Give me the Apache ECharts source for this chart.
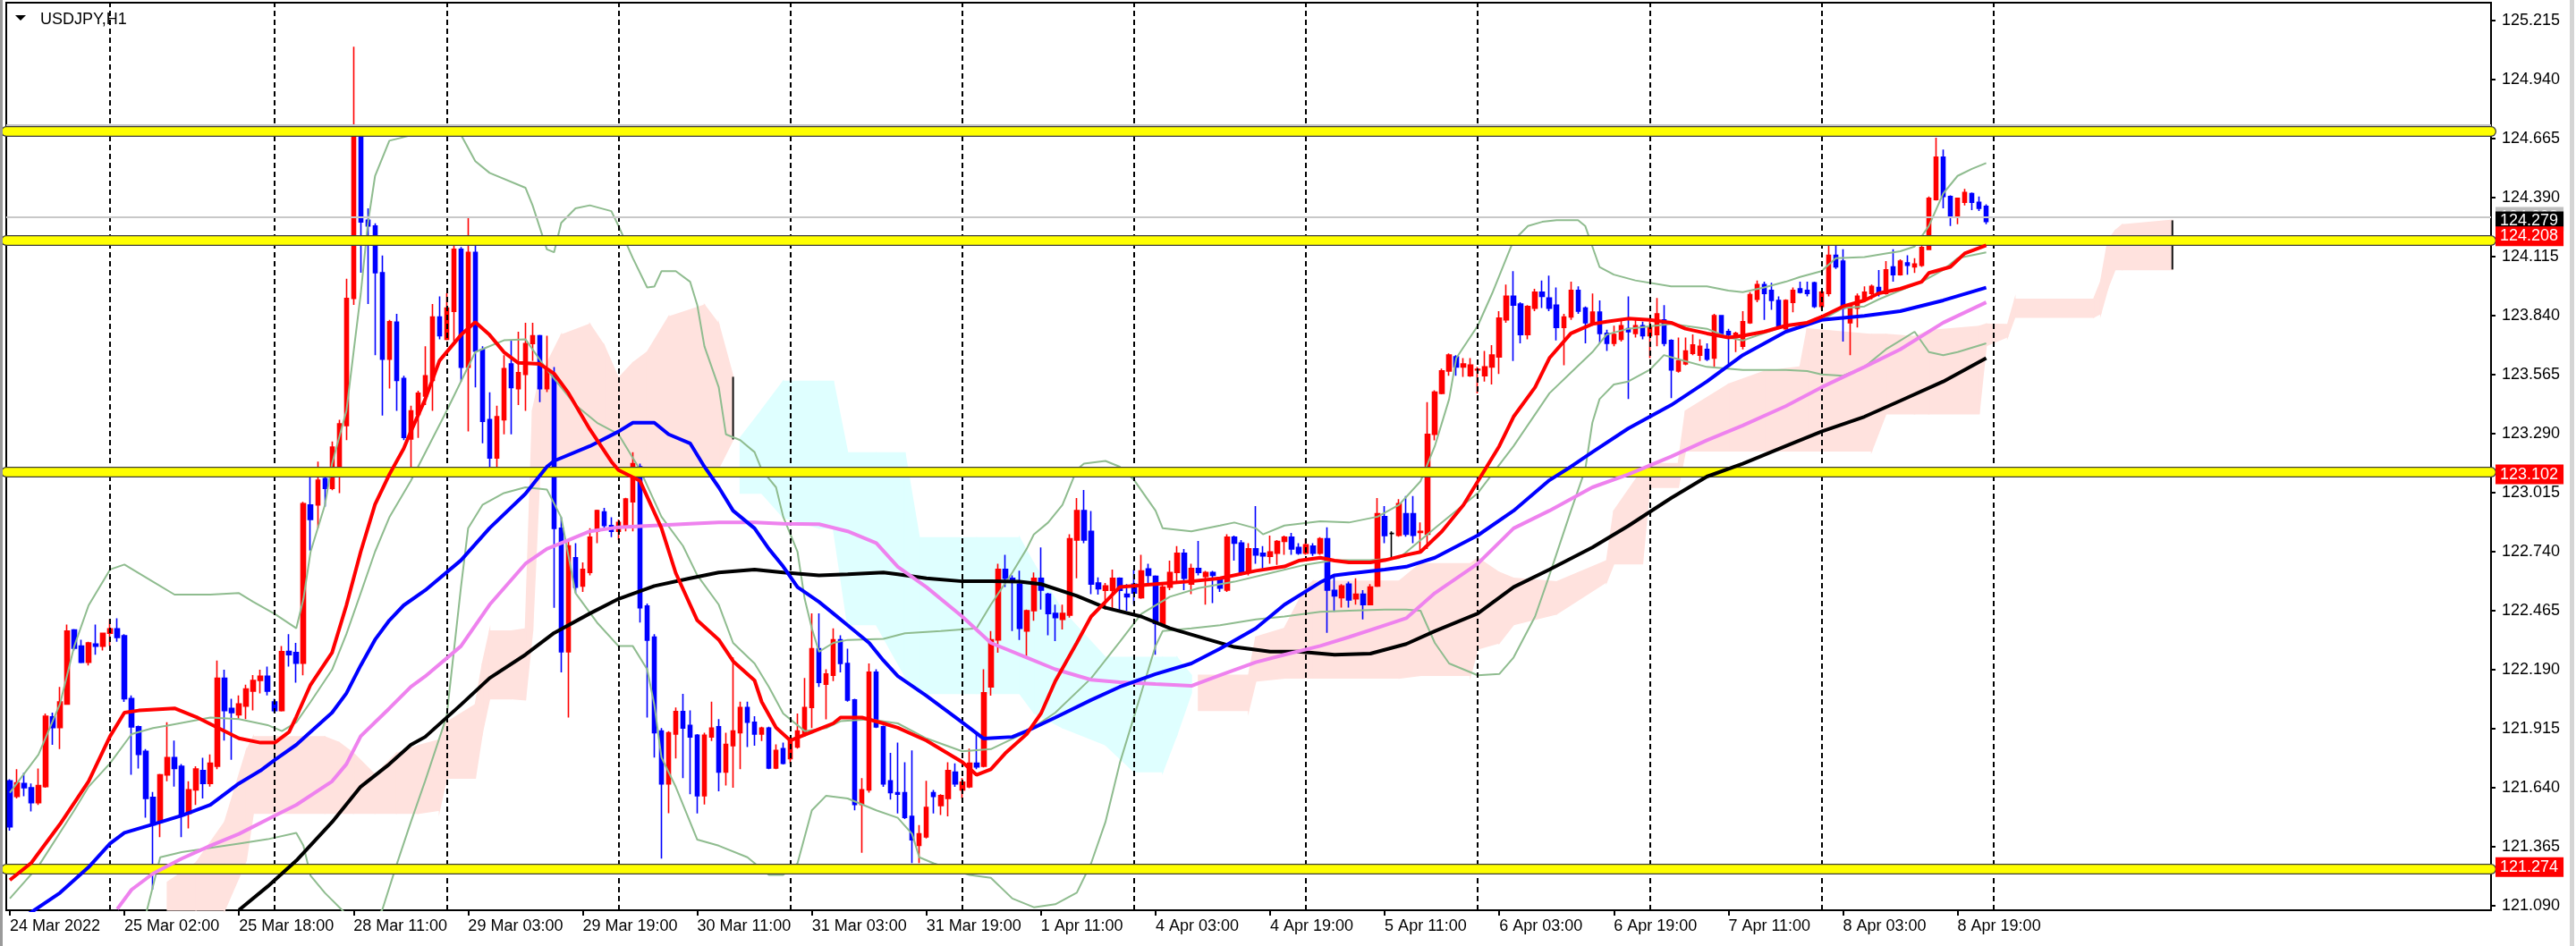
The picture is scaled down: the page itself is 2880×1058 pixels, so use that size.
<!DOCTYPE html>
<html><head><meta charset="utf-8">
<script src="https://cdn.jsdelivr.net/npm/echarts@6/dist/echarts.min.js"></script>
<style>html,body{margin:0;padding:0;background:#fff}#c{width:2880px;height:1058px}</style>
</head><body><div id="c"></div>
<script>
// ---------- DATA ----------
const openP=[121.672,121.60,121.66,121.64,121.57,121.645,121.97,121.92,122.03,122.375,
122.30,122.225,122.31,122.30,122.36,122.38,122.348,122.055,121.924,121.81,
121.595,121.48,121.70,121.78,121.74,121.52,121.63,121.72,121.66,121.74,
122.15,122.01,121.98,122.02,122.09,122.14,122.16,122.04,122.00,122.275,
122.27,122.22,122.957,122.958,123.08,123.035,123.12,123.328,123.92,124.68,
124.285,124.258,124.04,123.637,123.81,123.547,123.265,123.38,123.465,123.538,
123.834,123.73,123.86,124.149,123.60,124.135,123.683,123.355,123.177,123.355,
123.615,123.50,123.566,123.71,123.746,123.50,123.56,122.849,122.274,122.712,
122.58,122.643,122.835,122.925,122.862,122.835,122.862,122.972,123.136,122.487,
122.342,121.904,121.658,121.89,121.995,121.93,121.885,121.603,121.877,121.924,
121.713,121.836,121.896,122.014,121.945,121.89,121.918,121.732,121.822,121.776,
121.83,121.89,122.014,122.288,122.123,122.164,122.329,122.219,122.049,121.562,
121.63,122.178,121.924,121.672,121.617,121.617,121.507,121.371,121.411,121.617,
121.557,121.59,121.713,121.63,121.644,121.754,121.74,122.11,122.329,122.657,
122.616,122.589,122.37,122.465,122.616,122.542,122.452,122.425,122.444,122.794,
122.931,122.835,122.594,122.56,122.56,122.616,122.542,122.589,122.526,122.66,
122.625,122.397,122.575,122.643,122.733,122.589,122.662,122.625,122.643,122.608,
122.561,122.808,122.78,122.643,122.753,122.733,122.718,122.733,122.788,122.808,
122.76,122.733,122.766,122.733,122.80,122.56,122.526,122.589,122.52,122.542,
122.493,122.58,122.903,122.825,122.816,122.917,122.917,122.83,122.821,123.287,
123.478,123.582,123.648,123.601,123.56,123.587,123.56,123.601,123.648,123.82,
123.93,123.894,123.752,123.875,123.949,123.922,123.889,123.785,123.834,123.957,
123.875,123.801,123.856,123.757,123.711,123.73,123.779,123.757,123.793,123.746,
123.752,123.82,123.724,123.582,123.615,123.664,123.656,123.683,123.642,123.8395,
123.7655,123.738,123.697,123.807,123.916,123.985,123.957,123.911,123.779,123.902,
123.965,123.957,123.993,123.883,123.9435,124.121,124.094,123.807,123.875,123.916,
123.943,123.971,123.9435,124.067,124.031,124.086,124.067,124.075,124.149,124.381,
124.578,124.395,124.305,124.368,124.409,124.368,124.349];
const closeP=[121.458,121.663,121.64,121.57,121.65,121.973,121.92,122.04,122.37,122.29,
122.225,122.315,122.30,122.36,122.38,122.34,122.055,121.924,121.795,121.59,
121.467,121.70,121.78,121.73,121.51,121.63,121.727,121.66,121.754,122.15,
122.00,121.99,122.03,122.10,122.14,122.16,122.09,122.00,122.274,122.26,
122.22,122.964,122.89,123.073,123.035,123.227,123.336,123.92,124.70,124.277,
124.258,124.04,123.637,123.812,123.538,123.273,123.396,123.478,123.56,123.834,
123.746,123.875,124.149,123.60,124.135,123.675,123.347,123.177,123.369,123.593,
123.505,123.574,123.71,123.746,123.50,123.588,122.849,122.274,122.767,122.575,
122.657,122.808,122.931,122.862,122.835,122.876,122.986,123.15,122.479,122.328,
121.896,121.658,121.896,121.995,121.918,121.877,121.603,121.885,121.918,121.713,
121.842,121.904,122.014,121.945,121.89,121.918,121.732,121.814,121.754,121.858,
121.904,122.014,122.288,122.131,122.17,122.329,122.219,122.049,121.562,121.63,
122.178,121.924,121.658,121.617,121.61,121.502,121.398,121.425,121.548,121.60,
121.603,121.72,121.658,121.666,121.754,121.737,122.082,122.329,122.657,122.616,
122.60,122.383,122.465,122.616,122.561,122.452,122.433,122.452,122.80,122.931,
122.794,122.589,122.567,122.58,122.616,122.56,122.53,122.548,122.65,122.63,
122.406,122.575,122.643,122.733,122.616,122.662,122.643,122.643,122.63,122.57,
122.808,122.78,122.643,122.753,122.725,122.72,122.739,122.788,122.808,122.753,
122.733,122.772,122.733,122.80,122.561,122.534,122.58,122.515,122.542,122.493,
122.575,122.917,122.815,122.825,122.964,122.821,122.816,122.835,123.287,123.484,
123.582,123.656,123.601,123.615,123.6095,123.59,123.601,123.656,123.828,123.93,
123.889,123.752,123.883,123.949,123.93,123.875,123.785,123.834,123.957,123.861,
123.807,123.856,123.757,123.711,123.752,123.793,123.7655,123.793,123.746,123.785,
123.848,123.711,123.587,123.629,123.675,123.703,123.697,123.637,123.8395,123.757,
123.752,123.757,123.812,123.938,123.985,123.9435,123.911,123.793,123.911,123.957,
123.949,123.9435,123.883,123.949,124.121,124.067,123.875,123.889,123.93,123.949,
123.976,123.9435,124.053,124.031,124.094,124.075,124.08,124.157,124.387,124.578,
124.395,124.299,124.387,124.414,124.368,124.34,124.279];
const highP=[121.68,121.726,121.71,121.66,121.73,121.986,121.99,122.11,122.40,122.38,
122.33,122.32,122.40,122.36,122.425,122.43,122.356,122.07,121.93,121.82,
121.62,121.705,121.945,121.86,121.75,121.67,121.74,121.78,121.795,122.233,
122.19,122.055,122.07,122.12,122.165,122.19,122.205,122.055,122.30,122.356,
122.315,122.972,123.09,123.16,123.12,123.254,123.355,124.012,125.093,124.70,
124.34,124.27,124.12,123.82,123.848,123.56,123.42,123.49,123.697,123.894,
123.93,123.944,124.176,124.16,124.294,124.168,123.697,123.483,123.42,123.656,
123.725,123.765,123.807,123.807,123.75,123.746,123.60,122.90,122.794,122.78,
122.69,122.849,122.936,122.944,122.90,122.89,122.991,123.204,123.15,122.498,
122.356,121.918,121.904,122.014,122.077,122.0,121.89,121.896,122.041,121.96,
121.896,122.247,122.041,122.041,121.973,121.924,121.924,121.842,121.85,121.877,
121.986,122.151,122.452,122.452,122.192,122.383,122.35,122.288,122.055,121.685,
122.219,122.192,121.93,121.803,121.85,121.759,121.814,121.466,121.672,121.63,
121.61,121.759,121.754,121.685,121.822,121.89,122.192,122.37,122.684,122.725,
122.63,122.651,122.47,122.643,122.76,122.548,122.493,122.493,122.821,122.99,
123.027,122.93,122.62,122.594,122.657,122.62,122.589,122.657,122.725,122.684,
122.63,122.597,122.698,122.766,122.753,122.684,122.79,122.65,122.65,122.616,
122.821,122.815,122.794,122.78,122.953,122.766,122.815,122.794,122.815,122.827,
122.78,122.80,122.78,122.808,122.854,122.624,122.589,122.60,122.616,122.561,
122.589,122.99,122.953,122.835,122.985,122.999,122.999,122.876,123.437,123.492,
123.593,123.664,123.656,123.642,123.642,123.601,123.675,123.703,123.861,123.985,
124.047,123.902,123.889,123.965,124.004,124.026,123.971,123.848,123.998,123.976,
123.883,123.9435,123.911,123.774,123.793,123.82,123.93,123.82,123.812,123.812,
123.922,123.889,123.73,123.738,123.738,123.752,123.73,123.711,123.848,123.8425,
123.779,123.7655,123.861,123.949,124.004,123.998,123.993,123.93,123.916,123.971,
123.998,123.998,123.998,123.957,124.176,124.176,124.149,123.894,123.9435,123.976,
123.985,124.053,124.094,124.149,124.102,124.121,124.108,124.195,124.395,124.669,
124.614,124.40,124.387,124.431,124.414,124.395,124.359];
const lowP=[121.44,121.59,121.60,121.53,121.56,121.64,121.84,121.82,122.03,122.28,
122.22,122.21,122.26,122.28,122.30,122.32,122.04,121.70,121.73,121.50,
121.165,121.41,121.67,121.645,121.41,121.45,121.56,121.59,121.645,121.726,
121.86,121.77,121.96,121.96,122.00,122.08,122.07,121.99,121.995,122.205,
122.13,122.164,122.745,122.85,122.95,123.026,123.013,123.26,123.89,124.04,
123.894,123.656,123.374,123.50,123.396,123.26,123.136,123.27,123.423,123.396,
123.73,123.725,123.72,123.533,123.30,123.506,123.245,123.136,123.136,123.287,
123.287,123.423,123.396,123.629,123.437,123.484,122.479,122.178,121.967,122.548,
122.553,122.63,122.78,122.849,122.808,122.794,122.835,122.835,122.41,121.967,
121.781,121.31,121.521,121.776,121.685,121.61,121.52,121.562,121.858,121.623,
121.65,121.64,121.727,121.83,121.836,121.858,121.727,121.727,121.748,121.754,
121.822,121.877,121.918,122.11,121.959,122.137,122.178,122.041,121.535,121.337,
121.617,121.918,121.644,121.585,121.52,121.494,121.289,121.289,121.404,121.52,
121.513,121.507,121.644,121.59,121.638,121.726,121.735,122.069,122.269,122.575,
122.37,122.329,122.246,122.418,122.47,122.35,122.323,122.378,122.433,122.616,
122.78,122.542,122.54,122.47,122.465,122.465,122.465,122.493,122.52,122.589,
122.26,122.39,122.561,122.602,122.561,122.542,122.63,122.493,122.50,122.553,
122.553,122.698,122.63,122.63,122.684,122.662,122.684,122.679,122.725,122.725,
122.725,122.725,122.72,122.725,122.362,122.46,122.48,122.48,122.493,122.424,
122.49,122.575,122.78,122.71,122.81,122.81,122.78,122.739,122.753,123.259,
123.473,123.56,123.56,123.555,123.555,123.478,123.533,123.519,123.568,123.807,
123.629,123.711,123.73,123.861,123.875,123.861,123.724,123.609,123.82,123.848,
123.711,123.793,123.711,123.675,123.697,123.719,123.451,123.738,123.73,123.642,
123.697,123.697,123.456,123.574,123.609,123.656,123.629,123.629,123.601,123.752,
123.615,123.67,123.683,123.801,123.902,123.82,123.867,123.785,123.774,123.856,
123.9435,123.93,123.875,123.867,123.93,124.058,123.719,123.656,123.785,123.902,
123.916,123.93,123.938,123.998,124.026,124.031,124.039,124.067,124.149,124.376,
124.34,124.258,124.266,124.354,124.332,124.327,124.266];

// moving averages [barIndex, value]
const maRed=[[0,121.21],[3,121.29],[7,121.47],[11,121.67],[14,121.88],[16,121.99],[18,122.00],[23,122.01],[26,121.97],[29,121.92],[32,121.87],[35,121.85],[37,121.85],[39,121.90],[40,121.97],[42,122.12],[45,122.27],[47,122.49],[49,122.74],[51,122.96],[53,123.10],[55,123.22],[56,123.30],[58,123.45],[60,123.63],[63,123.75],[65,123.81],[67,123.75],[69,123.67],[71,123.62],[74,123.615],[76,123.57],[78,123.48],[81,123.31],[84,123.16],[85,123.12],[88,123.07],[91,122.85],[93,122.64],[96,122.42],[99,122.33],[101,122.23],[104,122.14],[105,122.04],[107,121.92],[109,121.86],[112,121.90],[115,121.94],[116,121.967],[119,121.967],[122,121.94],[124,121.92],[128,121.86],[133,121.76],[135,121.70],[137,121.726],[139,121.80],[142,121.89],[144,121.986],[146,122.137],[149,122.315],[151,122.438],[153,122.506],[155,122.575],[160,122.589],[165,122.602],[169,122.616],[174,122.651],[178,122.671],[180,122.698],[183,122.712],[185,122.698],[187,122.69],[190,122.69],[192,122.70],[195,122.725],[197,122.739],[200,122.835],[203,122.958],[206,123.122],[208,123.232],[210,123.369],[213,123.506],[215,123.642],[218,123.757],[221,123.801],[223,123.812],[226,123.826],[229,123.82],[232,123.807],[234,123.779],[237,123.757],[240,123.738],[242,123.746],[245,123.765],[248,123.793],[251,123.807],[253,123.834],[256,123.883],[259,123.911],[261,123.944],[264,123.965],[267,123.998],[268,124.039],[271,124.067],[273,124.13],[276,124.168]];
const maBlue=[[2,121.04],[3,121.06],[7,121.15],[11,121.27],[14,121.38],[16,121.43],[20,121.47],[24,121.51],[28,121.56],[32,121.66],[35,121.72],[37,121.77],[40,121.84],[42,121.90],[45,121.99],[47,122.08],[49,122.21],[51,122.33],[53,122.42],[55,122.49],[58,122.56],[63,122.70],[67,122.85],[72,123.01],[75,123.136],[76,123.163],[81,123.232],[85,123.30],[87,123.341],[90,123.341],[92,123.287],[95,123.245],[97,123.136],[99,123.04],[101,122.931],[104,122.849],[106,122.753],[108,122.671],[110,122.575],[113,122.506],[115,122.452],[117,122.397],[120,122.315],[122,122.233],[124,122.16],[128,122.069],[133,121.945],[136,121.869],[140,121.877],[142,121.904],[146,121.967],[151,122.049],[155,122.11],[160,122.17],[165,122.219],[169,122.288],[174,122.383],[178,122.493],[183,122.597],[185,122.63],[187,122.638],[192,122.657],[195,122.67],[199,122.712],[205,122.816],[210,122.931],[215,123.073],[218,123.136],[221,123.204],[226,123.314],[232,123.423],[237,123.533],[242,123.656],[248,123.765],[253,123.82],[259,123.839],[264,123.861],[270,123.911],[276,123.971]];
const maViolet=[[15,121.075],[17,121.165],[20,121.24],[24,121.31],[28,121.37],[32,121.425],[37,121.51],[40,121.56],[45,121.67],[47,121.75],[49,121.88],[51,121.945],[53,122.01],[56,122.11],[58,122.159],[63,122.30],[67,122.493],[72,122.684],[75,122.753],[78,122.794],[81,122.835],[85,122.854],[90,122.862],[95,122.87],[99,122.876],[104,122.876],[108,122.87],[113,122.868],[117,122.835],[121,122.78],[124,122.67],[128,122.575],[133,122.438],[137,122.315],[142,122.247],[146,122.192],[151,122.143],[155,122.132],[160,122.123],[165,122.115],[169,122.164],[174,122.225],[178,122.26],[183,122.301],[187,122.342],[192,122.397],[195,122.43],[199,122.547],[205,122.684],[210,122.849],[215,122.931],[221,123.04],[226,123.10],[232,123.183],[237,123.259],[242,123.328],[248,123.418],[253,123.506],[259,123.601],[264,123.683],[270,123.807],[276,123.902]];
const maBlack=[[32,121.07],[36,121.18],[40,121.30],[45,121.48],[49,121.645],[53,121.75],[56,121.84],[58,121.877],[63,122.027],[67,122.151],[72,122.26],[76,122.361],[81,122.452],[85,122.52],[90,122.58],[95,122.616],[99,122.643],[104,122.657],[108,122.643],[113,122.63],[117,122.635],[122,122.643],[124,122.635],[128,122.616],[133,122.602],[137,122.602],[141,122.60],[144,122.589],[149,122.534],[153,122.479],[158,122.438],[162,122.383],[167,122.334],[171,122.296],[176,122.274],[180,122.274],[185,122.26],[190,122.265],[195,122.31],[199,122.37],[205,122.452],[210,122.575],[215,122.657],[221,122.76],[226,122.86],[232,122.99],[237,123.09],[242,123.15],[248,123.232],[253,123.30],[259,123.369],[264,123.443],[270,123.533],[276,123.642]];

// Bollinger bands [barIndex, value]
const bbUp=[[0,121.617],[4,121.795],[7,122.03],[9,122.30],[11,122.49],[14,122.657],[16,122.68],[20,122.60],[23,122.54],[28,122.54],[32,122.547],[34,122.506],[37,122.45],[40,122.383],[41,122.52],[42,122.74],[44,122.958],[45,123.15],[47,123.396],[48,123.67],[49,123.94],[50,124.27],[51,124.49],[53,124.655],[56,124.68],[61,124.72],[63,124.683],[65,124.56],[67,124.505],[72,124.436],[73,124.354],[75,124.149],[76,124.135],[77,124.272],[79,124.34],[81,124.354],[84,124.327],[85,124.258],[87,124.108],[89,123.971],[90,123.975],[91,124.047],[93,124.047],[95,123.998],[96,123.889],[97,123.697],[99,123.506],[100,123.287],[102,123.26],[104,123.204],[105,123.122],[107,123.04],[108,122.903],[110,122.739],[111,122.52],[112,122.383],[113,122.274],[115,122.315],[117,122.329],[122,122.334],[125,122.36],[130,122.37],[135,122.383],[137,122.493],[140,122.643],[142,122.753],[143,122.82],[145,122.876],[147,122.958],[149,123.122],[150,123.15],[153,123.163],[155,123.136],[157,123.074],[160,122.931],[161,122.849],[165,122.835],[169,122.862],[171,122.876],[174,122.849],[175,122.821],[178,122.862],[183,122.882],[187,122.876],[191,122.903],[194,122.958],[197,123.068],[199,123.232],[201,123.451],[202,123.642],[205,123.793],[207,123.943],[209,124.108],[210,124.19],[212,124.258],[214,124.277],[216,124.285],[219,124.285],[220,124.258],[221,124.162],[222,124.067],[224,124.031],[227,124.004],[232,123.976],[237,123.976],[240,123.957],[242,123.949],[245,123.971],[248,123.998],[250,124.02],[253,124.047],[255,124.108],[259,124.113],[262,124.13],[264,124.14],[266,124.162],[268,124.258],[270,124.409],[272,124.491],[274,124.524],[276,124.551]];
const bbMid=[[0,121.124],[4,121.275],[9,121.535],[11,121.645],[14,121.754],[17,121.89],[20,121.918],[22,121.93],[28,121.967],[32,121.96],[36,121.932],[38,121.904],[40,121.945],[42,122.04],[45,122.19],[47,122.356],[49,122.547],[51,122.74],[53,122.90],[56,123.07],[61,123.396],[65,123.67],[69,123.725],[72,123.73],[75,123.588],[79,123.423],[82,123.341],[85,123.287],[88,123.122],[91,122.903],[94,122.767],[96,122.63],[99,122.493],[101,122.315],[104,122.219],[106,122.11],[108,121.986],[111,121.904],[114,121.918],[116,121.95],[120,121.959],[124,121.94],[128,121.87],[133,121.81],[137,121.82],[142,121.90],[146,121.99],[151,122.15],[155,122.32],[158,122.45],[162,122.53],[166,122.57],[171,122.60],[176,122.64],[181,122.68],[185,122.70],[190,122.70],[194,122.71],[199,122.849],[205,123.013],[210,123.232],[215,123.478],[218,123.574],[221,123.67],[223,123.752],[226,123.779],[232,123.801],[237,123.779],[240,123.738],[242,123.724],[248,123.793],[253,123.82],[256,123.875],[259,123.883],[261,123.916],[264,123.957],[267,123.998],[270,124.053],[272,124.108],[276,124.135]];
const bbLow=[[19,121.05],[21,121.316],[24,121.34],[28,121.36],[32,121.38],[36,121.40],[40,121.43],[41,121.37],[42,121.23],[44,121.15],[47,121.05],[50,121.0],[52,121.07],[54,121.28],[56,121.48],[58,121.672],[61,121.973],[63,122.575],[64,122.849],[66,122.958],[69,123.013],[72,123.04],[75,123.03],[77,122.90],[79,122.547],[82,122.41],[85,122.30],[87,122.30],[89,122.192],[90,122.027],[91,121.781],[93,121.644],[96,121.398],[99,121.37],[103,121.316],[106,121.234],[108,121.234],[110,121.288],[112,121.535],[114,121.603],[117,121.59],[121,121.535],[124,121.50],[126,121.425],[127,121.316],[129,121.288],[134,121.234],[137,121.22],[140,121.124],[143,121.083],[146,121.097],[149,121.151],[151,121.288],[153,121.48],[155,121.754],[158,122.082],[160,122.301],[161,122.37],[165,122.383],[169,122.397],[174,122.424],[178,122.438],[183,122.46],[187,122.465],[192,122.47],[195,122.47],[197,122.465],[199,122.315],[201,122.219],[205,122.164],[208,122.17],[210,122.247],[213,122.438],[215,122.63],[218,122.93],[220,123.122],[221,123.341],[222,123.451],[224,123.519],[226,123.533],[229,123.587],[231,123.656],[233,123.637],[237,123.601],[242,123.587],[248,123.587],[251,123.582],[253,123.566],[256,123.56],[259,123.601],[262,123.683],[264,123.724],[266,123.765],[268,123.67],[270,123.656],[272,123.67],[276,123.711]];

// Ichimoku cloud (already shifted 26 bars ahead)
const cloudX=[22,26,30,33,34,44,46,48,51,54,57,60,61,65,66,67,70,72,73,74,77,81,83,85,87,89,92,97,99,101,
102,105,108,113,115,117,121,125,127,135,141,143,147,153,157,161,163,165,
166,173,174,178,181,182,194,197,204,205,208,210,216,223,224,228,229,233,234,240,245,250,251,260,262,266,268,275,276,279,280,291,292,293,294,295,302];
const spanA=[121.20,121.29,121.48,121.81,121.877,121.877,121.85,121.80,121.70,121.80,121.836,121.863,121.945,122.027,122.219,122.37,122.37,122.38,123.40,123.55,123.75,123.80,123.70,123.548,123.62,123.67,123.834,123.889,123.80,123.555,
123.013,123.013,122.90,122.85,122.85,122.40,122.40,122.16,122.08,122.08,122.08,121.99,121.92,121.84,121.715,121.715,121.89,122.082,
122.164,122.164,122.342,122.383,122.575,122.602,122.602,122.684,122.684,122.71,122.643,122.616,122.60,122.698,122.93,123.122,123.15,123.15,123.396,123.52,123.58,123.601,123.779,123.752,123.752,123.742,123.77,123.79,123.80,123.798,123.916,123.916,124.00,124.19,124.235,124.263,124.284];
const spanB=[121.07,121.07,121.07,121.30,121.521,121.521,121.521,121.521,121.521,121.521,121.521,121.535,121.685,121.685,121.90,122.055,122.055,122.05,122.37,123.10,123.10,123.10,123.10,123.10,123.10,123.10,123.10,123.10,123.13,123.263,
123.27,123.40,123.534,123.534,123.534,123.20,123.20,123.20,122.805,122.805,122.805,122.684,122.465,122.247,122.247,122.247,122.247,122.164,
122.0,122.0,122.137,122.151,122.151,122.151,122.151,122.164,122.164,122.287,122.315,122.40,122.45,122.60,122.684,122.684,123.04,123.04,123.21,123.21,123.21,123.21,123.21,123.21,123.383,123.383,123.383,123.383,123.70,123.742,123.833,123.833,123.85,123.97,124.055,124.055,124.055];
const cloudEdgeX=[101,302];
const cloudEdgeLo=[123.263,124.055];
const cloudEdgeHi=[123.555,124.284];

// axes
const nBars=347;
const tickIdx=[0,16,32,48,64,80,96,112,128,144,160,176,192,208,224,240,256,272];
const tickLabels=["24 Mar 2022","25 Mar 02:00","25 Mar 18:00","28 Mar 11:00","29 Mar 03:00","29 Mar 19:00","30 Mar 11:00","31 Mar 03:00","31 Mar 19:00","1 Apr 11:00","4 Apr 03:00","4 Apr 19:00","5 Apr 11:00","6 Apr 03:00","6 Apr 19:00","7 Apr 11:00","8 Apr 03:00","8 Apr 19:00"];
const daySep=[14,37,61,85,109,133,157,181,205,229,253,277];
const yTicks=[121.090,121.365,121.640,121.915,122.190,122.465,122.740,123.015,123.290,123.565,123.840,124.115,124.390,124.665,124.940,125.215];
const yMin=121.0692, yMax=125.2983;

// horizontal levels
const yellowLevels=[124.704,124.195,123.108,121.263];
const grayLevels=[124.728,124.174,121.285];
const askPrice=124.298;
const tagValues=[124.298,124.279,124.208,123.102,121.274];

// ---------- BUILD ----------
const FONT='Liberation Sans';
const cats=[];for(let i=0;i<nBars;i++)cats.push(String(i));
const labelMap={};tickIdx.forEach((t,k)=>labelMap[t]=tickLabels[k]);
const candles=openP.map((o,i)=>{
  const it={value:[o,closeP[i],lowP[i],highP[i]]};
  if(o===closeP[i]) it.itemStyle={color:'#000',color0:'#000',borderColor:'#000',borderColor0:'#000'};
  return it;
});
const tagColors=['#C0C0C0','#000000','#FF0000','#FF0000','#FF0000'];

const chart=echarts.init(document.getElementById('c'),null,{renderer:'canvas'});
function lineSeries(name,data,color,width,z){
  return {name,type:'line',data,symbol:'none',smooth:false,z,silent:true,
    lineStyle:{color,width},itemStyle:{color},connectNulls:true};
}
const levelLines=[];
grayLevels.forEach(v=>levelLines.push({yAxis:v,lineStyle:{color:'#C4C4C4',width:2,type:'solid'}}));
levelLines.push({yAxis:askPrice,lineStyle:{color:'#C8C8C8',width:2,type:'solid'}});
yellowLevels.forEach(v=>levelLines.push({yAxis:v,lineStyle:{color:'#3C3C3C',width:12,type:'solid',cap:'round'}}));
yellowLevels.forEach(v=>levelLines.push({yAxis:v,lineStyle:{color:'#FFFF00',width:9.5,type:'solid',cap:'round'}}));

const tagLines=tagValues.map((v,k)=>({yAxis:v,lineStyle:{color:'rgba(255,255,255,0)',width:1,type:'solid'},
  label:{show:true,position:'end',distance:5,formatter:v.toFixed(3),backgroundColor:tagColors[k],
    color:'#fff',fontSize:18,fontFamily:FONT,padding:[2,6,1,5],lineHeight:19}}));

const option={
  animation:false,
  backgroundColor:'#fff',
  title:{text:'USDJPY,H1',left:40,top:8,textStyle:{fontSize:18,fontWeight:'normal',color:'#000',fontFamily:FONT}},
  graphic:[
    {type:'polygon',shape:{points:[[17,17],[29,17],[23,23]]},style:{fill:'#000'},z:100},
    {type:'rect',shape:{x:0,y:0,width:3,height:1058},style:{fill:'#9A9A9A'},z:100},
    {type:'rect',shape:{x:2873,y:0,width:5,height:1058},style:{fill:'#D4D4D4'},z:100}
  ],
  grid:{left:7,right:95,top:3,bottom:40,show:true,borderColor:'#000',borderWidth:2,backgroundColor:'#fff',outerBoundsMode:'none'},
  xAxis:{type:'category',data:cats,boundaryGap:true,
    axisLine:{lineStyle:{color:'#000',width:2}},
    axisTick:{show:true,alignWithLabel:true,length:6,lineStyle:{color:'#000',width:2},interval:(i)=>labelMap[i]!==undefined},
    axisLabel:{interval:(i)=>labelMap[i]!==undefined,formatter:(v,i)=>labelMap[i]||'',align:'left',margin:9,
      color:'#000',fontSize:18,fontFamily:FONT},
    splitLine:{show:false}},
  yAxis:{type:'value',position:'right',min:yMin,max:yMax,scale:true,
    axisLine:{show:true,lineStyle:{color:'#000',width:2}},
    axisTick:{show:true,length:5,lineStyle:{color:'#000',width:2},customValues:yTicks},
    axisLabel:{customValues:yTicks,formatter:(v)=>v.toFixed(3),margin:12,color:'#000',fontSize:18,fontFamily:FONT},
    splitLine:{show:false}},
  series:[
    {name:'cloud',type:'custom',z:1,silent:true,
     data:cloudX.slice(0,-1).map((x,k)=>[x,spanA[k]]),
     renderItem:function(params,api){
       const k=params.dataIndex;
       const x0=cloudX[k],x1=cloudX[k+1];
       const a0=spanA[k],b0=spanB[k],a1=spanA[k+1],b1=spanB[k+1];
       if((a0-b0)*(a1-b1)<0) return null;
       const bull=(a0+a1)>=(b0+b1);
       const c=bull?'#FFE2DE':'#DFFFFF';
       const pts=[api.coord([x0,a0]),api.coord([x1,a1]),api.coord([x1,b1]),api.coord([x0,b0])];
       return {type:'polygon',shape:{points:pts},style:{fill:c,stroke:c,lineWidth:1.5}};
     }},
    {name:'cloudEdge',type:'custom',z:2,silent:true,
     data:cloudEdgeX.map((x,k)=>[x,cloudEdgeLo[k]]),
     renderItem:function(params,api){
       const k=params.dataIndex;
       const p0=api.coord([cloudEdgeX[k],cloudEdgeLo[k]]),p1=api.coord([cloudEdgeX[k],cloudEdgeHi[k]]);
       return {type:'line',shape:{x1:p0[0],y1:p0[1],x2:p1[0],y2:p1[1]},style:{stroke:'#101010',lineWidth:2}};
     }},
    {name:'sep',type:'line',data:[],z:2,silent:true,
     markLine:{silent:true,symbol:'none',label:{show:false},
       lineStyle:{color:'#000',width:2,type:[6,4]},
       data:daySep.map(d=>({xAxis:String(d)}))}},
    {name:'price',type:'candlestick',z:3,silent:true,data:candles,barWidth:5,
     itemStyle:{color:'#FF0000',color0:'#0000FF',borderColor:'#FF0000',borderColor0:'#0000FF',borderWidth:1.6}},
    lineSeries('bbUp',bbUp,'#8FBC8F',2,4),
    lineSeries('bbMid',bbMid,'#8FBC8F',2,4),
    lineSeries('bbLow',bbLow,'#8FBC8F',2,4),
    lineSeries('maBlack',maBlack,'#000000',4,5),
    lineSeries('maViolet',maViolet,'#EE82EE',4,5),
    lineSeries('maBlue',maBlue,'#0000FF',4,5),
    lineSeries('maRed',maRed,'#FF0000',4,5),
    {name:'levels',type:'line',data:[],z:6,silent:true,clip:false,
     markLine:{silent:true,symbol:'none',label:{show:false},data:levelLines}},
    {name:'tags',type:'line',data:[],z:7,silent:true,clip:false,
     markLine:{silent:true,symbol:'none',data:tagLines}}
  ]
};
chart.setOption(option);
</script>
</body></html>
